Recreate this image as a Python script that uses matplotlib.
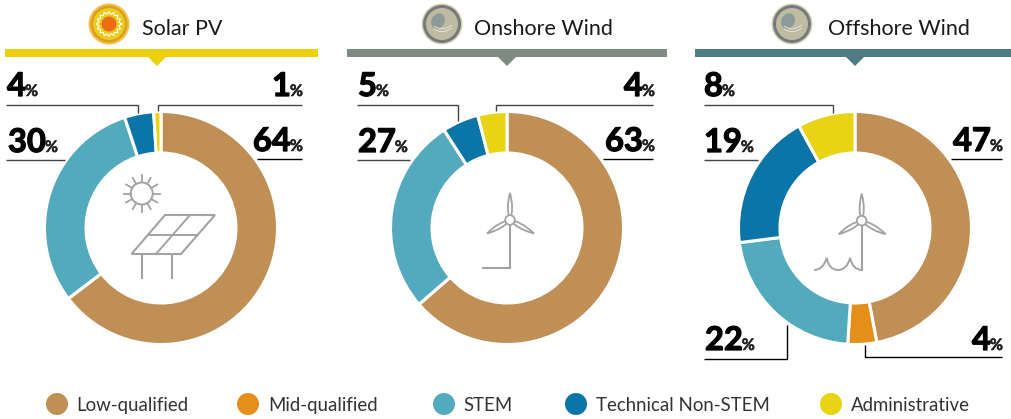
import numpy as np
import matplotlib
matplotlib.use('Agg')
import matplotlib.pyplot as plt
import matplotlib.patheffects as pe
from matplotlib.patches import Circle, Ellipse, PathPatch, Polygon
from matplotlib.path import Path

categories = ['Low-qualified', 'Mid-qualified', 'STEM', 'Technical Non-STEM', 'Administrative']
colors = ['#C08F55', '#E38F1A', '#53AABD', '#0A75A6', '#E9D315']

titles = ['Solar PV', 'Onshore Wind', 'Offshore Wind']
solar_vals = [64, 0, 30, 4, 1]
onshore_vals = [63, 0, 27, 5, 4]
offshore_vals = [47, 4, 22, 19, 8]

GREY = '#A3A3A3'
plt.rcParams['font.family'] = ['Lato', 'DejaVu Sans']

fig = plt.figure(figsize=(10.11, 4.19), dpi=100)
ax = fig.add_axes([0, 0, 1, 1])
heavy = [pe.withStroke(linewidth=0.9, foreground='black')]
heavy_pct = [pe.withStroke(linewidth=0.35, foreground='#222222')]


def donut(vals, cx):
    # y axis runs downwards, so the angles are mirrored
    ax.pie(vals, colors=colors, center=(cx, 228), radius=116.5, startangle=-90, counterclock=True,
           frame=True, wedgeprops=dict(width=41.5, edgecolor='white', linewidth=2.2))


def band(x0, x1, tip, color):
    ax.add_patch(Polygon([(x0, 49), (x1, 49), (x1, 57), (tip + 9, 57), (tip, 66), (tip - 9, 57), (x0, 57)],
                         closed=True, fc=color, ec='none'))


def value_label(val, x, y, right=False):
    r = fig.canvas.get_renderer()
    if right:
        p = ax.text(x, y, '%', fontsize=11.5, fontweight='bold', ha='right', va='baseline', color='#222222',
                    path_effects=heavy_pct)
        left = p.get_window_extent(r).x0
        ax.text(left + 1, y, str(val), fontsize=23.5, fontweight='bold', ha='right', va='baseline', color='black',
                path_effects=heavy)
    else:
        n = ax.text(x, y, str(val), fontsize=23.5, fontweight='bold', ha='left', va='baseline', color='black',
                    path_effects=heavy)
        end = n.get_window_extent(r).x1
        ax.text(end - 1, y, '%', fontsize=11.5, fontweight='bold', ha='left', va='baseline', color='#222222',
                path_effects=heavy_pct)


def leader(xs, ys, color='#444444'):
    ax.plot(xs, ys, color=color, lw=1.0, solid_capstyle='butt', solid_joinstyle='miter')


def solar_badge(cx, cy):
    ax.add_patch(Circle((cx, cy), 20.5, fc='#F2C04B', ec='none'))
    ax.add_patch(Circle((cx, cy), 18.5, fc='#DB9E22', ec='none'))
    ax.add_patch(Circle((cx, cy), 16, fc='#EBCB1B', ec='none'))
    ang = np.linspace(0, 2 * np.pi, 33)
    rad = np.where(np.arange(33) % 2 == 0, 12.5, 10)
    ax.plot(cx + rad * np.cos(ang), cy + rad * np.sin(ang), color='white', lw=0.8)
    ax.add_patch(Circle((cx, cy), 7.5, fc='#EC6C15', ec='none'))


def wind_badge(cx, cy):
    ax.add_patch(Circle((cx, cy), 20.5, fc='#D6D2B8', ec='none'))
    ax.add_patch(Circle((cx, cy), 19, fc='#76797A', ec='none'))
    ax.add_patch(Circle((cx, cy), 16, fc='#BFBBA3', ec='none'))
    ax.add_patch(Ellipse((cx - 4, cy - 3), 13, 16, angle=30, fc='#8C9A98', ec='none'))
    for dy in (2, 5):
        verts = [(cx - 8, cy + dy), (cx, cy + dy + 6), (cx + 10, cy + dy - 1)]
        ax.add_patch(PathPatch(Path(verts, [Path.MOVETO, Path.CURVE3, Path.CURVE3]),
                               fc='none', ec='#E8E6D8', lw=0.6))


def sun_icon(cx, cy):
    ax.add_patch(Circle((cx, cy), 11, fc='none', ec=GREY, lw=1.4))
    for a in np.arange(0, 360, 30):
        t = np.deg2rad(a)
        ax.plot([cx + 11 * np.cos(t), cx + 18 * np.cos(t)], [cy + 11 * np.sin(t), cy + 18 * np.sin(t)],
                color=GREY, lw=1.3)


def panel_icon():
    ax.add_patch(Polygon([(165, 215), (215, 215), (181, 254), (131.5, 254)], closed=True,
                         fc='none', ec=GREY, lw=1.5))
    ax.plot([148.5, 198], [234.5, 234.5], color=GREY, lw=1.4)
    ax.plot([190, 156], [215, 254], color=GREY, lw=1.4)
    ax.plot([141.7, 141.7], [254, 278], color=GREY, lw=1.5)
    ax.plot([172.3, 172.3], [254, 278], color=GREY, lw=1.5)


def turbine(hx, hy, bottom):
    ax.plot([hx, hx], [hy + 5, bottom], color=GREY, lw=1.5)
    tips = [(0, -27), (-23, 13.5), (24, 13.5)]
    for tx, ty in tips:
        nx, ny = -ty * 0.16, tx * 0.16
        mx, my = tx * 0.4, ty * 0.4
        verts = [(hx, hy), (hx + mx + nx, hy + my + ny), (hx + tx, hy + ty),
                 (hx + mx - nx, hy + my - ny), (hx, hy)]
        codes = [Path.MOVETO, Path.CURVE3, Path.CURVE3, Path.CURVE3, Path.CURVE3]
        ax.add_patch(PathPatch(Path(verts, codes), fc='white', ec=GREY, lw=1.3))
    ax.add_patch(Circle((hx, hy), 4.8, fc='white', ec=GREY, lw=1.3, zorder=4))


def waves():
    verts = [(814, 270), (823, 270), (826.7, 258), (829, 270), (838, 270),
             (847, 270), (850, 258), (853, 270), (862, 270)]
    codes = [Path.MOVETO, Path.CURVE3, Path.CURVE3, Path.CURVE3, Path.CURVE3,
             Path.CURVE3, Path.CURVE3, Path.CURVE3, Path.CURVE3]
    ax.add_patch(PathPatch(Path(verts, codes), fc='none', ec=GREY, lw=1.4))


donut(solar_vals, 161)
donut(onshore_vals, 507)
donut(offshore_vals, 855)

ax.set_xlim(0, 1011)
ax.set_ylim(419, 0)
ax.set_aspect('auto')
ax.axis('off')
fig.canvas.draw()

band(5, 318, 157, '#EBD10B')
band(347, 667, 507, '#7F8A84')
band(695, 1011, 855, '#4F7C82')

solar_badge(109, 24)
wind_badge(442, 24)
wind_badge(792, 24)
for t, x in zip(titles, [142, 474, 828]):
    ax.text(x, 35, t, fontsize=15.5, ha='left', va='baseline', color='#1A1A1A')

# solar
value_label(solar_vals[3], 7, 96)
value_label(solar_vals[4], 303, 96, right=True)
value_label(solar_vals[2], 8, 152)
value_label(solar_vals[0], 303, 151, right=True)
leader([6, 138, 138], [105, 105, 113])
leader([302, 158, 158], [105, 105, 111])
leader([6, 65], [160.5, 160.5])
leader([257, 302], [159.5, 159.5], 'black')

# onshore
value_label(onshore_vals[3], 358, 96)
value_label(onshore_vals[4], 655, 96, right=True)
value_label(onshore_vals[2], 358, 152)
value_label(onshore_vals[0], 655, 151, right=True)
leader([357, 458, 458], [105, 105, 121])
leader([653, 496, 496], [105, 105, 111])
leader([357, 410], [160.5, 160.5])
leader([603, 653], [159.5, 159.5], 'black')

# offshore
value_label(offshore_vals[4], 704, 96)
value_label(offshore_vals[3], 704, 152)
value_label(offshore_vals[0], 1003, 151, right=True)
value_label(offshore_vals[2], 705, 350)
value_label(offshore_vals[1], 1003, 350, right=True)
leader([704, 833, 833], [105, 105, 113])
leader([704, 758], [160.5, 160.5])
leader([951, 1002], [159.5, 159.5], 'black')
leader([704, 786.5, 786.5], [358.5, 358.5, 325], 'black')
leader([1002, 865, 865], [356.5, 356.5, 345], 'black')

sun_icon(141.7, 193.5)
panel_icon()
turbine(510, 220, 268)
ax.plot([483, 510], [268, 268], color=GREY, lw=1.5)
turbine(861.7, 220.7, 270)
waves()

# legend
for c, name, cx, tx in zip(colors, categories, [57, 248, 444, 576, 831], [76, 268, 463, 596, 851]):
    ax.add_patch(Circle((cx, 404), 11, fc=c, ec='none'))
    ax.text(tx, 411, name, fontsize=13.4, ha='left', va='baseline', color='#333333')

fig.savefig('out.png', dpi=100, facecolor='white')
